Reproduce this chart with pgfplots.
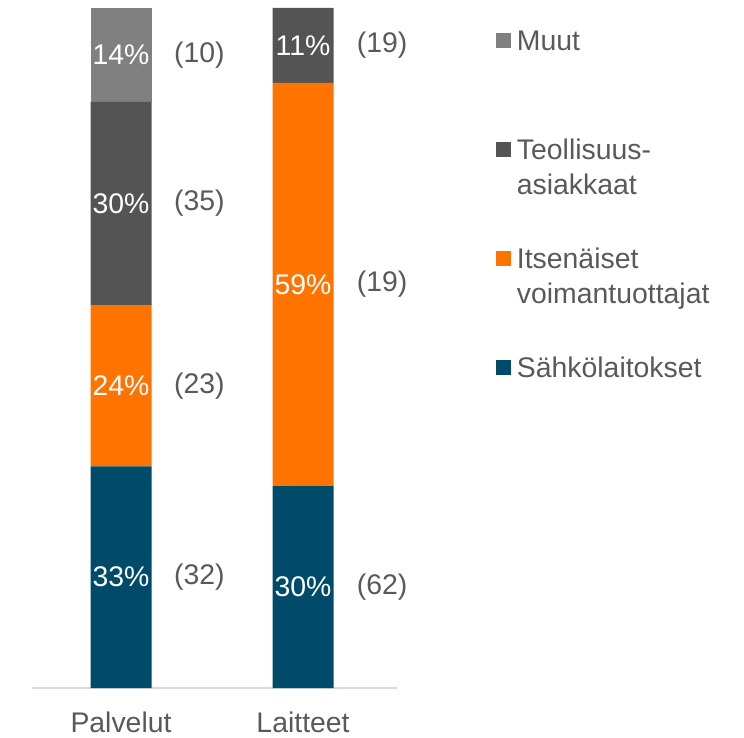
\documentclass[border=0pt]{standalone}
\usepackage{pgfplots}
\pgfplotsset{compat=1.18}
\usepackage{fontspec}
\setmainfont{Liberation Sans}
\definecolor{cBlue}{RGB}{0,74,106}
\definecolor{cOrange}{RGB}{255,115,0}
\definecolor{cDark}{RGB}{84,84,84}
\definecolor{cGray}{RGB}{128,128,128}
\definecolor{cText}{RGB}{89,89,89}
\definecolor{cAxis}{RGB}{217,217,217}
\tikzset{inlbl/.style={font=\fontsize{28.5}{34}\selectfont, text=white, inner sep=0pt},
         outlbl/.style={font=\fontsize{28.5}{34}\selectfont, text=cText, inner sep=0pt}}
\pgfplotsset{geom/.style={at={(32bp,50bp)}, anchor=south west,
  scale only axis, width=365bp, height=680bp,
  xmin=-0.489, xmax=1.516, ymin=0, ymax=100, clip=false}}
\begin{document}
\begin{tikzpicture}
\useasboundingbox (0,0) rectangle (744bp,738bp);
\begin{axis}[
  geom,
  ybar stacked, bar width=61bp,
  axis x line*=bottom, axis y line=none,
  x axis line style={draw=cAxis, line width=1.2bp},
  xtick={0,1}, xticklabels={Palvelut,Laitteet},
  major tick length=0pt,
  xticklabel style={font=\fontsize{28.5}{34}\selectfont, text=cText, yshift=-20bp},
  reverse legend,
  legend style={at={(1.271,0.9706)}, anchor=north west, draw=none, fill=none,
    inner sep=0pt, outer sep=0pt,
    font=\fontsize{28.5}{36}\selectfont, text=cText, row sep=44bp,
    nodes={inner sep=0pt, align=left, anchor=base west, text height=58bp, text depth=7bp},
    /tikz/every odd column/.append style={column sep=6bp}},
  legend cell align=left,
  legend image code/.code={\fill[#1] (0bp,38bp) rectangle (15bp,53bp);},
]
\addplot[fill=cBlue, draw=none] coordinates {(0,32.6) (1,29.7)};
\addlegendentry{{Sähkölaitokset\\\mbox{}}}
\addplot[fill=cOrange, draw=none] coordinates {(0,23.7) (1,59.3)};
\addlegendentry{{Itsenäiset\\voimantuottajat}}
\addplot[fill=cDark, draw=none] coordinates {(0,29.9) (1,11.0)};
\addlegendentry{{Teollisuus-\\asiakkaat}}
\addplot[fill=cGray, draw=none] coordinates {(0,13.8) (1,0)};
\addlegendentry{{Muut\\\mbox{}}}
\end{axis}
\begin{axis}[geom, hide axis]
\node[inlbl] at (axis cs:0,16.3) {33\%};
\node[inlbl] at (axis cs:0,44.45) {24\%};
\node[inlbl] at (axis cs:0,71.25) {30\%};
\node[inlbl] at (axis cs:0,93.1) {14\%};
\node[inlbl] at (axis cs:1,14.85) {30\%};
\node[inlbl] at (axis cs:1,59.35) {59\%};
\node[inlbl] at (axis cs:1,94.5) {11\%};
\node[outlbl] at (axis cs:0.43,16.3) {(32)};
\node[outlbl] at (axis cs:0.43,44.45) {(23)};
\node[outlbl] at (axis cs:0.43,71.25) {(35)};
\node[outlbl] at (axis cs:0.43,93.1) {(10)};
\node[outlbl] at (axis cs:1.434,14.85) {(62)};
\node[outlbl] at (axis cs:1.434,59.35) {(19)};
\node[outlbl] at (axis cs:1.434,94.5) {(19)};
\end{axis}
\end{tikzpicture}
\end{document}
